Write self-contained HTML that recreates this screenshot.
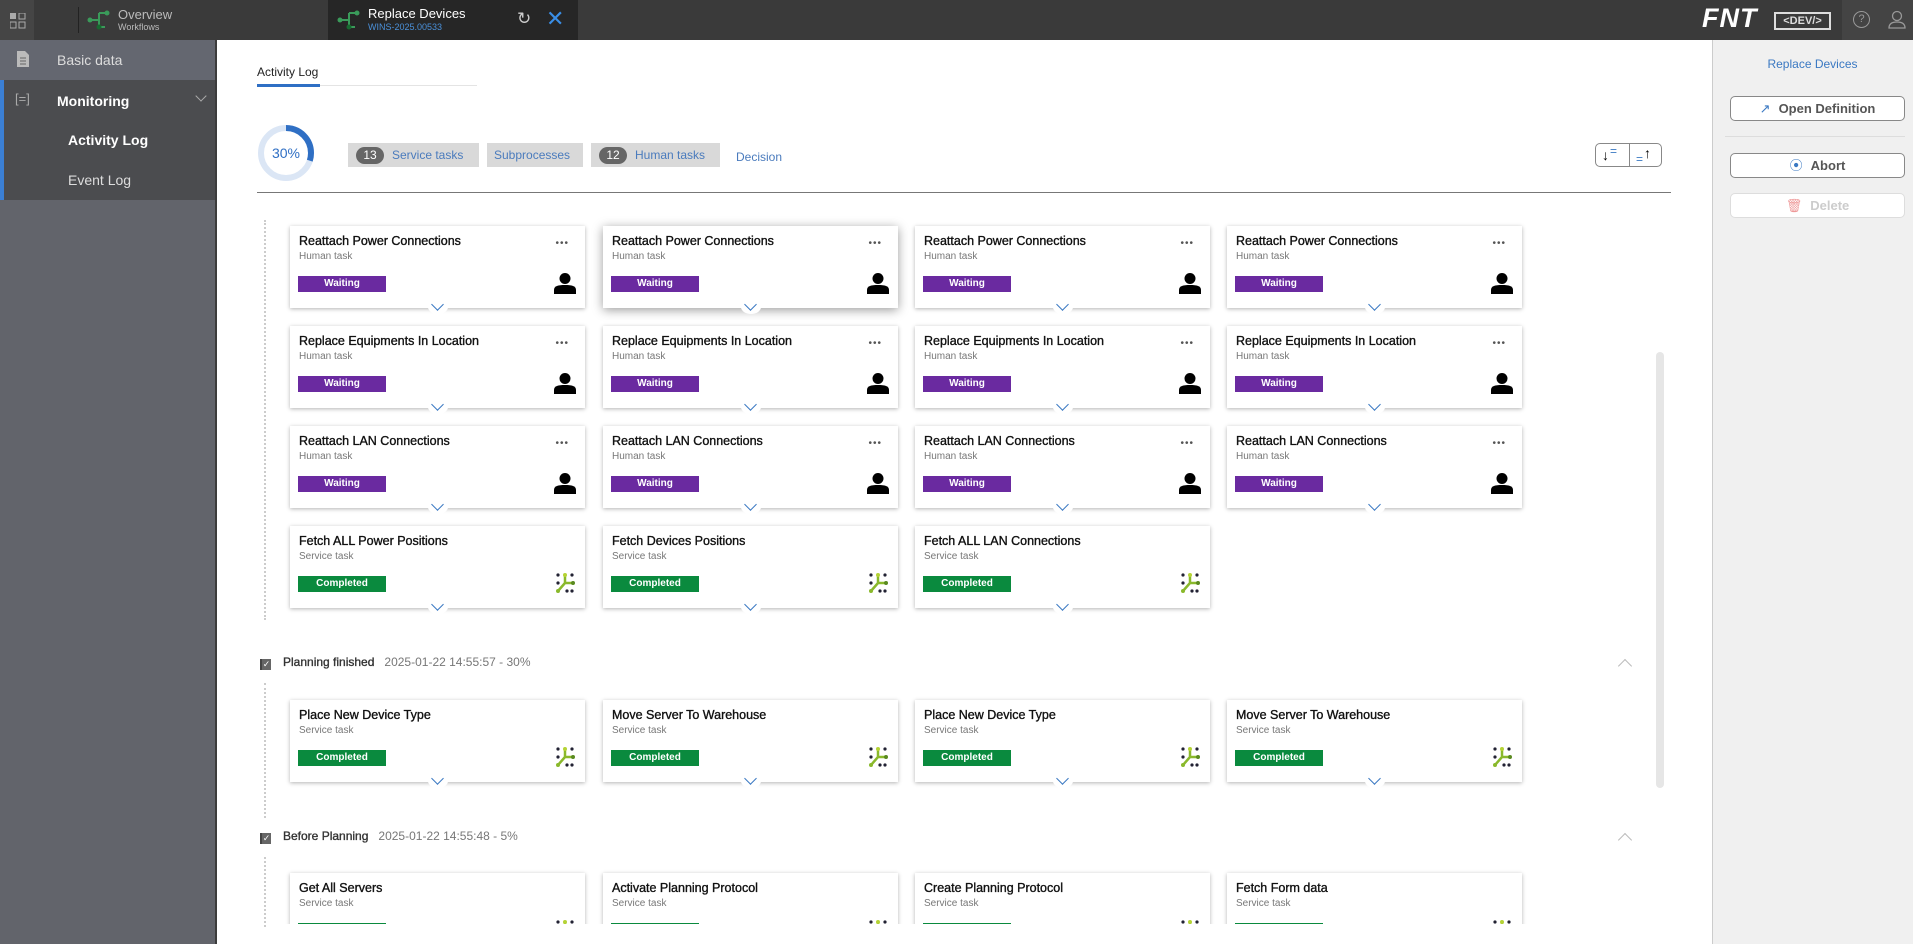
<!DOCTYPE html>
<html><head><meta charset="utf-8">
<style>
*{box-sizing:border-box;margin:0;padding:0}
body{width:1913px;height:944px;overflow:hidden;font-family:"Liberation Sans",sans-serif;background:#fff;position:relative}
.a{position:absolute}
#top{left:0;top:0;width:1913px;height:40px;background:#3a3a3a}
#side{left:0;top:40px;width:217px;height:904px;background:#62646b;border-right:2px solid #3c3c3c}
.row{position:absolute;left:0;width:215px;height:40px;color:#ddd;font-size:14px}
#right{left:1712px;top:40px;width:201px;height:904px;background:#f0f0f0;border-left:1px solid #ccc}
.c{position:absolute;width:295px;height:82px;background:#fff;box-shadow:0 1px 4px rgba(0,0,0,.3)}
.c b{position:absolute;left:9px;top:8px;font-size:12.5px;font-weight:normal;color:#111;-webkit-text-stroke:.35px #111}
.c i{position:absolute;left:9px;top:25px;font-size:10px;font-style:normal;color:#777}
.c .w,.c .g{position:absolute;left:8px;top:50px;width:88px;height:16px;color:#fff;font-size:10px;text-align:center;line-height:16px;font-weight:bold}
.c .w{background:#6a2aa0}.c .g{background:#0a8a3e}
.c em{position:absolute;right:16px;top:12px;font-size:10px;font-style:normal;color:#555;letter-spacing:1px}
.c svg.ic{position:absolute;right:9px;top:46px}
.c .ch{position:absolute;left:138px;top:74px;width:20px;height:14px;background:#fff;border-radius:50%}
.c .ch:after{content:"";position:absolute;left:5px;top:0px;width:8px;height:8px;border-right:1.5px solid #3a78c2;border-bottom:1.5px solid #3a78c2;transform:rotate(45deg)}
.chip{position:absolute;top:143px;height:24px;background:#d9d9d9;color:#4a7bbd;font-size:12px;line-height:24px}
.cnt{display:inline-block;background:#666;color:#fff;border-radius:10px;width:28px;height:17px;line-height:17px;text-align:center;margin:0 8px 0 8px;font-size:12px}
.btn{position:absolute;left:1730px;width:175px;height:25px;border:1px solid #888;border-radius:5px;background:#fff;font-size:13px;font-weight:bold;color:#555;text-align:center;line-height:23px}
.hd{position:absolute;left:260px;font-size:12px;color:#333}
.hd span{color:#777;margin-left:10px}
.flag{display:inline-block;width:11px;height:11px;background:#666;margin-right:12px;vertical-align:-1px;border-left:2px solid #444;color:#fff;font-size:9px;line-height:11px;text-align:center;font-style:normal}
.up{position:absolute;left:1620px;width:10px;height:10px;border-left:1.5px solid #bbb;border-top:1.5px solid #bbb;transform:rotate(45deg)}
</style></head><body>
<div id="top" class="a">
  <div class="a" style="left:0;top:0;width:34px;height:40px;background:#454545"></div>
  <svg class="a" style="left:10px;top:13px" width="16" height="16"><rect x="0" y="0" width="6" height="6" fill="#aaa"/><rect x="9" y="0" width="6" height="6" fill="none" stroke="#aaa"/><rect x="0" y="9" width="6" height="6" fill="none" stroke="#aaa"/><rect x="9" y="9" width="6" height="6" fill="none" stroke="#aaa"/></svg>
  <div class="a" style="left:78px;top:7px;width:1px;height:26px;background:#222"></div>
  <svg class="a" style="left:87px;top:9px" width="24" height="22"><path d="M3 11H12M12 4V18M12 4H20M12 18H18" stroke="#3a9a5a" stroke-width="2" fill="none"/><circle cx="3" cy="11" r="2.5" fill="#3a9a5a"/><circle cx="20" cy="4" r="2.5" fill="#3a9a5a"/><circle cx="12" cy="18" r="2.5" fill="#176a30"/></svg>
  <div class="a" style="left:118px;top:7px;color:#bbb;font-size:13px">Overview</div>
  <div class="a" style="left:118px;top:22px;color:#bbb;font-size:9px">Workflows</div>
  <div class="a" style="left:328px;top:0;width:250px;height:40px;background:#262626"></div>
  <svg class="a" style="left:337px;top:9px" width="24" height="22"><path d="M3 11H12M12 4V18M12 4H20M12 18H18" stroke="#3a9a5a" stroke-width="2" fill="none"/><circle cx="3" cy="11" r="2.5" fill="#3a9a5a"/><circle cx="20" cy="4" r="2.5" fill="#3a9a5a"/><circle cx="12" cy="18" r="2.5" fill="#176a30"/></svg>
  <div class="a" style="left:368px;top:6px;color:#fff;font-size:13px">Replace Devices</div>
  <div class="a" style="left:368px;top:22px;color:#4a90d9;font-size:9px">WINS-2025.00533</div>
  <div class="a" style="left:517px;top:9px;color:#ccc;font-size:17px">↻</div>
  <div class="a" style="left:546px;top:6px;color:#3a8ee6;font-size:22px">✕</div>
  <div class="a" style="left:1702px;top:3px;color:#fff;font-size:27px;font-weight:bold;font-style:italic;letter-spacing:1px">FNT</div>
  <div class="a" style="left:1774px;top:12px;width:57px;height:18px;border:2px solid #ddd;color:#ddd;font-size:11px;font-weight:bold;text-align:center;line-height:14px">&lt;DEV/&gt;</div>
  <div class="a" style="left:1842px;top:0;width:71px;height:40px;background:#444"></div>
  <div class="a" style="left:1853px;top:11px;width:17px;height:17px;border:1px solid #999;border-radius:50%;color:#999;font-size:11px;text-align:center;line-height:15px">?</div>
  <svg class="a" style="left:1887px;top:10px" width="20" height="20"><circle cx="10" cy="6" r="4.5" fill="none" stroke="#999" stroke-width="1.3"/><path d="M2 18C2 13 6 12 10 12S18 13 18 18Z" fill="none" stroke="#999" stroke-width="1.3"/></svg>
</div>
<div id="side" class="a">
  <div class="row" style="top:0;background:#646770"><svg class="a" style="left:17px;top:11px" width="12" height="16"><path d="M0 0H8L12 4V16H0Z" fill="#bbb"/><path d="M3 7H9M3 10H9M3 13H9" stroke="#666"/></svg><span class="a" style="left:57px;top:12px">Basic data</span></div>
  <div class="row" style="top:40px;background:#4b4c4f;border-left:4px solid #3b7fd4"><span class="a" style="left:11px;top:11px;color:#aaa;font-size:13px">[=]</span><span class="a" style="left:53px;top:13px;color:#fff;font-weight:bold">Monitoring</span><div class="a" style="left:193px;top:12px;width:8px;height:8px;border-right:1px solid #aaa;border-bottom:1px solid #aaa;transform:rotate(45deg)"></div></div>
  <div class="row" style="top:80px;background:#4b4c4f;border-left:4px solid #3b7fd4"><span class="a" style="left:64px;top:12px;color:#fff;font-weight:bold">Activity Log</span></div>
  <div class="row" style="top:120px;background:#4b4c4f;border-left:4px solid #3b7fd4"><span class="a" style="left:64px;top:12px">Event Log</span></div>
</div>
<div class="a" style="left:257px;top:65px;font-size:12px;color:#222">Activity Log</div>
<div class="a" style="left:257px;top:85px;width:220px;height:1px;background:#e4e4e4"></div>
<div class="a" style="left:257px;top:84px;width:63px;height:3px;background:#2f6fc4"></div>
<svg class="a" style="left:256px;top:123px" width="60" height="60"><circle cx="30" cy="30" r="25" fill="none" stroke="#dbe6f5" stroke-width="6"/><circle cx="30" cy="30" r="25" fill="none" stroke="#2f6fc4" stroke-width="6" stroke-dasharray="47 200" transform="rotate(-90 30 30)"/><text x="30" y="35" text-anchor="middle" font-size="14" fill="#2f6fc4" font-family="Liberation Sans">30%</text></svg>
<div class="chip" style="left:348px;width:131px"><span class="cnt">13</span>Service tasks</div>
<div class="chip" style="left:487px;width:96px;padding-left:7px">Subprocesses</div>
<div class="chip" style="left:591px;width:129px"><span class="cnt">12</span>Human tasks</div>
<div class="a" style="left:736px;top:150px;font-size:12px;color:#4a7bbd">Decision</div>
<div class="a" style="left:1595px;top:143px;width:67px;height:24px;border:1px solid #888;border-radius:5px;background:#fff"><div class="a" style="left:33px;top:0;width:1px;height:22px;background:#888"></div><span class="a" style="left:6px;top:3px;font-size:14px">↓</span><span class="a" style="left:14px;top:0px;color:#3a78c2;font-size:12px">=</span><span class="a" style="left:40px;top:8px;color:#3a78c2;font-size:12px">=</span><span class="a" style="left:48px;top:1px;font-size:14px">↑</span></div>
<div class="a" style="left:257px;top:192px;width:1414px;height:1px;background:#777"></div>
<div class="a" style="left:264px;top:220px;height:400px;border-left:2px dotted #ccc"></div>
<div class="a" style="left:264px;top:683px;height:135px;border-left:2px dotted #ccc"></div>
<div class="a" style="left:264px;top:857px;height:70px;border-left:2px dotted #ccc"></div>
<div class="a" style="left:1656px;top:352px;width:8px;height:436px;background:#e6e6e6;border-radius:4px"></div>

<div class="hd" style="top:655px"><i class="flag">✓</i><b style="font-weight:normal;-webkit-text-stroke:.35px #333">Planning finished</b><span>2025-01-22 14:55:57 - 30%</span></div>
<div class="up" style="top:661px"></div>
<div class="hd" style="top:829px"><i class="flag">✓</i><b style="font-weight:normal;-webkit-text-stroke:.35px #333">Before Planning</b><span>2025-01-22 14:55:48 - 5%</span></div>
<div class="up" style="top:835px"></div>

<svg width="0" height="0" style="position:absolute"><defs>
<g id="p"><circle cx="11" cy="6.5" r="5.5" fill="#000"/><path d="M0 22V18C0 14 4 13 11 13S22 14 22 18V22Z" fill="#000"/></g>
<g id="s"><circle cx="4" cy="3" r="1.6" fill="#223"/><circle cx="18" cy="3" r="1.6" fill="#223"/><circle cx="4" cy="11" r="1.6" fill="#223"/><circle cx="13" cy="19" r="1.6" fill="#223"/><circle cx="18" cy="19" r="1.6" fill="#223"/><path d="M11 3V11L4 19M11 11H19" stroke="#8ab92c" stroke-width="2.5" fill="none"/><circle cx="11" cy="3" r="2" fill="#b5d335"/><circle cx="4" cy="19" r="2" fill="#8ab92c"/><circle cx="19" cy="11" r="2" fill="#5a8a20"/></g>
</defs></svg>

<div style="position:absolute;left:0;top:0;width:1700px;height:924px;overflow:hidden">
<div class="c" style="left:290px;top:226px"><b>Reattach Power Connections</b><i>Human task</i><span class="w">Waiting</span><em>•••</em><svg class="ic" width="22" height="22"><use href="#p"/></svg><div class="ch"></div></div>
<div class="c" style="left:603px;top:226px;box-shadow:0 2px 10px rgba(0,0,0,.4)"><b>Reattach Power Connections</b><i>Human task</i><span class="w">Waiting</span><em>•••</em><svg class="ic" width="22" height="22"><use href="#p"/></svg><div class="ch"></div></div>
<div class="c" style="left:915px;top:226px"><b>Reattach Power Connections</b><i>Human task</i><span class="w">Waiting</span><em>•••</em><svg class="ic" width="22" height="22"><use href="#p"/></svg><div class="ch"></div></div>
<div class="c" style="left:1227px;top:226px"><b>Reattach Power Connections</b><i>Human task</i><span class="w">Waiting</span><em>•••</em><svg class="ic" width="22" height="22"><use href="#p"/></svg><div class="ch"></div></div>

<div class="c" style="left:290px;top:326px"><b>Replace Equipments In Location</b><i>Human task</i><span class="w">Waiting</span><em>•••</em><svg class="ic" width="22" height="22"><use href="#p"/></svg><div class="ch"></div></div>
<div class="c" style="left:603px;top:326px"><b>Replace Equipments In Location</b><i>Human task</i><span class="w">Waiting</span><em>•••</em><svg class="ic" width="22" height="22"><use href="#p"/></svg><div class="ch"></div></div>
<div class="c" style="left:915px;top:326px"><b>Replace Equipments In Location</b><i>Human task</i><span class="w">Waiting</span><em>•••</em><svg class="ic" width="22" height="22"><use href="#p"/></svg><div class="ch"></div></div>
<div class="c" style="left:1227px;top:326px"><b>Replace Equipments In Location</b><i>Human task</i><span class="w">Waiting</span><em>•••</em><svg class="ic" width="22" height="22"><use href="#p"/></svg><div class="ch"></div></div>

<div class="c" style="left:290px;top:426px"><b>Reattach LAN Connections</b><i>Human task</i><span class="w">Waiting</span><em>•••</em><svg class="ic" width="22" height="22"><use href="#p"/></svg><div class="ch"></div></div>
<div class="c" style="left:603px;top:426px"><b>Reattach LAN Connections</b><i>Human task</i><span class="w">Waiting</span><em>•••</em><svg class="ic" width="22" height="22"><use href="#p"/></svg><div class="ch"></div></div>
<div class="c" style="left:915px;top:426px"><b>Reattach LAN Connections</b><i>Human task</i><span class="w">Waiting</span><em>•••</em><svg class="ic" width="22" height="22"><use href="#p"/></svg><div class="ch"></div></div>
<div class="c" style="left:1227px;top:426px"><b>Reattach LAN Connections</b><i>Human task</i><span class="w">Waiting</span><em>•••</em><svg class="ic" width="22" height="22"><use href="#p"/></svg><div class="ch"></div></div>

<div class="c" style="left:290px;top:526px"><b>Fetch ALL Power Positions</b><i>Service task</i><span class="g">Completed</span><svg class="ic" width="22" height="22"><use href="#s"/></svg><div class="ch"></div></div>
<div class="c" style="left:603px;top:526px"><b>Fetch Devices Positions</b><i>Service task</i><span class="g">Completed</span><svg class="ic" width="22" height="22"><use href="#s"/></svg><div class="ch"></div></div>
<div class="c" style="left:915px;top:526px"><b>Fetch ALL LAN Connections</b><i>Service task</i><span class="g">Completed</span><svg class="ic" width="22" height="22"><use href="#s"/></svg><div class="ch"></div></div>

<div class="c" style="left:290px;top:700px"><b>Place New Device Type</b><i>Service task</i><span class="g">Completed</span><svg class="ic" width="22" height="22"><use href="#s"/></svg><div class="ch"></div></div>
<div class="c" style="left:603px;top:700px"><b>Move Server To Warehouse</b><i>Service task</i><span class="g">Completed</span><svg class="ic" width="22" height="22"><use href="#s"/></svg><div class="ch"></div></div>
<div class="c" style="left:915px;top:700px"><b>Place New Device Type</b><i>Service task</i><span class="g">Completed</span><svg class="ic" width="22" height="22"><use href="#s"/></svg><div class="ch"></div></div>
<div class="c" style="left:1227px;top:700px"><b>Move Server To Warehouse</b><i>Service task</i><span class="g">Completed</span><svg class="ic" width="22" height="22"><use href="#s"/></svg><div class="ch"></div></div>

<div class="c" style="left:290px;top:873px"><b>Get All Servers</b><i>Service task</i><span class="g">Completed</span><svg class="ic" width="22" height="22"><use href="#s"/></svg></div>
<div class="c" style="left:603px;top:873px"><b>Activate Planning Protocol</b><i>Service task</i><span class="g">Completed</span><svg class="ic" width="22" height="22"><use href="#s"/></svg></div>
<div class="c" style="left:915px;top:873px"><b>Create Planning Protocol</b><i>Service task</i><span class="g">Completed</span><svg class="ic" width="22" height="22"><use href="#s"/></svg></div>
<div class="c" style="left:1227px;top:873px"><b>Fetch Form data</b><i>Service task</i><span class="g">Completed</span><svg class="ic" width="22" height="22"><use href="#s"/></svg></div>
</div>

<div id="right" class="a"></div>
<div class="a" style="left:1712px;top:57px;width:201px;text-align:center;font-size:12px;color:#3a78c2">Replace Devices</div>
<div class="btn" style="top:96px"><span style="color:#3a78c2;font-weight:normal;margin-right:8px">↗</span>Open Definition</div>
<div class="a" style="left:1725px;top:136px;width:180px;height:1px;background:#ddd"></div>
<div class="btn" style="top:153px"><span style="color:#3a78c2;font-weight:normal;margin-right:8px">⦿</span>Abort</div>
<div class="btn" style="top:193px;border-color:#ddd;color:#ccc"><span style="color:#e99;font-weight:normal;margin-right:8px">🗑</span>Delete</div>
</body></html>
